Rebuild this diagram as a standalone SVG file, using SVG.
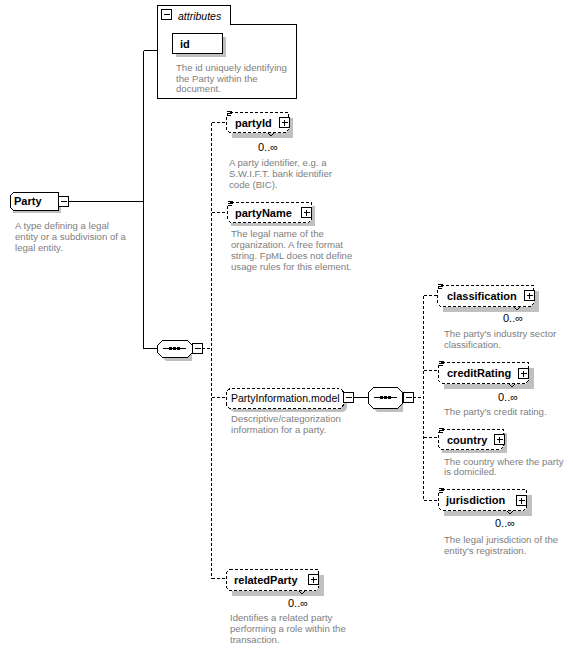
<svg xmlns="http://www.w3.org/2000/svg" width="573" height="650" viewBox="0 0 573 650">
<style>
.ln{stroke:#000;stroke-width:1;fill:none;shape-rendering:crispEdges}
.dl{stroke:#000;stroke-width:1;fill:none;stroke-dasharray:3,2;shape-rendering:crispEdges}
.bx{fill:#fff;stroke:#000;stroke-width:1;shape-rendering:crispEdges}
.db{fill:#fff;stroke:#000;stroke-width:1;stroke-dasharray:3,2;shape-rendering:crispEdges}
.sh{fill:#c0c0c0;stroke:none}
.lbl{font-family:"Liberation Sans",Arial,sans-serif;font-size:11px;font-weight:bold;fill:#000}
.reg{font-family:"Liberation Sans",Arial,sans-serif;font-size:10.5px;fill:#000}
.occ{font-family:"Liberation Sans",Arial,sans-serif;font-size:11px;fill:#000}
.desc{font-family:"Liberation Sans",Arial,sans-serif;font-size:9.6px;fill:#808080}
</style>
<defs>
<g id="plus"><rect class="bx" x="0.5" y="0.5" width="10" height="10"/><path class="ln" d="M2.5 5.5H8.5M5.5 2.5V8.5"/></g>
<g id="minus"><rect class="bx" x="0.5" y="0.5" width="10" height="10"/><path class="ln" d="M2.5 5.5H8.5"/></g>
<g id="icon"><path class="ln" d="M0 0.5H5M0 2.5H5M0 4.5H4"/></g>
</defs>

<g id="connectors">
<path class="ln" d="M143.5 50.5H157M143.5 50.5V348.5H157M68 201.5H143.5"/>
<path class="dl" d="M202 348.5H211.5M211.5 122.5V578.5M211.5 122.5H226M211.5 212.5H227M211.5 397.5H226M211.5 578.5H226"/>
<path class="ln" d="M354 397.5H368"/>
<path class="dl" d="M413 397.5H423.5M423.5 295.5V500.5M423.5 295.5H437M423.5 370.5H438M423.5 437.5H438M423.5 500.5H438"/>
</g>

<g id="attributes">
<path class="bx" d="M157.5 98.5V5.5H230.5V24.5H296.5V98.5Z"/>
<use href="#minus" x="161" y="9"/>
<text x="178" y="19.5" class="reg" style="font-style:italic">attributes</text>
<rect class="sh" x="176" y="37" width="50" height="20"/>
<rect class="bx" x="172.5" y="33.5" width="50" height="20"/>
<text x="180" y="47.5" class="lbl">id</text>
<text class="desc"><tspan x="176" y="70.5">The id uniquely identifying</tspan><tspan x="176" y="81.5">the Party within the</tspan><tspan x="176" y="92">document.</tspan></text>
</g>

<g id="party">
<path class="sh" d="M17 196H61V213H13V200Z"/>
<path class="bx" d="M13.5 192.5H58.5V210.5H13.5L10.5 207.5V195.5Z"/>
<use href="#minus" x="58" y="196"/>
<text x="14" y="205" class="lbl">Party</text>
<text class="desc"><tspan x="15" y="229">A type defining a legal</tspan><tspan x="15" y="240">entity or a subdivision of a</tspan><tspan x="15" y="250.5">legal entity.</tspan></text>
</g>

<g id="sequence1">
<path class="sh" d="M166 344H192V361H166L161 356V349Z"/>
<path class="bx" d="M162.5 340.5H187.5L192.5 345.5V352.5L187.5 357.5H162.5L157.5 352.5V345.5Z"/>
<path class="ln" d="M163 348.5H186"/>
<rect x="169" y="347" width="3" height="3" fill="#000"/><rect x="173" y="347" width="3" height="3" fill="#000"/><rect x="177" y="347" width="3" height="3" fill="#000"/>
<use href="#minus" x="192" y="343"/>
</g>

<g id="partyId">
<rect class="sh" x="232" y="118" width="61" height="20"/>
<path class="db" d="M229.5 112.5H288.5V129.5L285.5 132.5H229.5L226.5 129.5V115.5Z"/>
<use href="#icon" x="227" y="111"/>
<path class="ln" d="M268 133L271 136L274 133"/>
<text x="235" y="127" class="lbl">partyId</text>
<use href="#plus" x="279" y="117"/>
<text x="258" y="151" class="occ">0..∞</text>
<text class="desc"><tspan x="229" y="166">A party identifier, e.g. a</tspan><tspan x="229" y="177">S.W.I.F.T. bank identifier</tspan><tspan x="229" y="188">code (BIC).</tspan></text>
</g>

<g id="partyName">
<rect class="sh" x="231" y="206" width="84" height="20"/>
<path class="db" d="M230.5 202.5H311.5V219.5L308.5 222.5H230.5L227.5 219.5V205.5Z"/>
<use href="#icon" x="228" y="201"/>
<text x="235" y="216.5" class="lbl">partyName</text>
<use href="#plus" x="301" y="207"/>
<text class="desc"><tspan x="231" y="237">The legal name of the</tspan><tspan x="231" y="248">organization. A free format</tspan><tspan x="231" y="259">string. FpML does not define</tspan><tspan x="231" y="270">usage rules for this element.</tspan></text>
</g>

<g id="partyInformationModel">
<rect class="sh" x="230" y="392" width="117" height="20" rx="5"/>
<rect class="db" x="226.5" y="388.5" width="117" height="20" rx="5"/>
<text x="231" y="402" class="reg">PartyInformation.model</text>
<use href="#minus" x="343" y="392"/>
<text class="desc"><tspan x="231" y="422">Descriptive/categorization</tspan><tspan x="231" y="433">information for a party.</tspan></text>
</g>

<g id="sequence2">
<path class="sh" d="M377 391H403V412H377L372 407V396Z"/>
<path class="bx" d="M373.5 387.5H397.5L402.5 392.5V403.5L397.5 408.5H373.5L368.5 403.5V392.5Z"/>
<path class="ln" d="M374 397.5H397"/>
<rect x="380" y="396" width="3" height="3" fill="#000"/><rect x="384" y="396" width="3" height="3" fill="#000"/><rect x="388" y="396" width="3" height="3" fill="#000"/>
<use href="#minus" x="403" y="392"/>
</g>

<g id="classification">
<rect class="sh" x="443" y="291" width="96" height="21"/>
<path class="db" d="M440.5 285.5H533.5V303.5L530.5 306.5H440.5L437.5 303.5V288.5Z"/>
<use href="#icon" x="438" y="284"/>
<path class="ln" d="M514 307L517 310L520 307"/>
<text x="447" y="300" class="lbl">classification</text>
<use href="#plus" x="524" y="290"/>
<text x="503" y="322" class="occ">0..∞</text>
<text class="desc"><tspan x="444" y="337">The party's industry sector</tspan><tspan x="444" y="348">classification.</tspan></text>
</g>

<g id="creditRating">
<rect class="sh" x="444" y="368" width="90" height="21"/>
<path class="db" d="M441.5 362.5H528.5V380.5L525.5 383.5H441.5L438.5 380.5V365.5Z"/>
<use href="#icon" x="439" y="361"/>
<path class="ln" d="M509 384L512 387L515 384"/>
<text x="447" y="377" class="lbl">creditRating</text>
<use href="#plus" x="518" y="368"/>
<text x="498" y="401" class="occ">0..∞</text>
<text class="desc"><tspan x="444" y="415">The party's credit rating.</tspan></text>
</g>

<g id="country">
<rect class="sh" x="442" y="433" width="65" height="20"/>
<path class="db" d="M441.5 429.5H503.5V446.5L500.5 449.5H441.5L438.5 446.5V432.5Z"/>
<use href="#icon" x="439" y="428"/>
<text x="447" y="443.5" class="lbl">country</text>
<use href="#plus" x="494" y="434"/>
<text class="desc"><tspan x="444" y="465">The country where the party</tspan><tspan x="444" y="475">is domiciled.</tspan></text>
</g>

<g id="jurisdiction">
<rect class="sh" x="444" y="495" width="88" height="21"/>
<path class="db" d="M441.5 489.5H526.5V507.5L523.5 510.5H441.5L438.5 507.5V492.5Z"/>
<use href="#icon" x="439" y="488"/>
<path class="ln" d="M507 511L510 514L513 511"/>
<text x="446" y="504" class="lbl">jurisdiction</text>
<use href="#plus" x="516" y="495"/>
<text x="495" y="527" class="occ">0..∞</text>
<text class="desc"><tspan x="444" y="543">The legal jurisdiction of the</tspan><tspan x="444" y="554">entity's registration.</tspan></text>
</g>

<g id="relatedParty">
<rect class="sh" x="232" y="575" width="92" height="21"/>
<path class="db" d="M229.5 569.5H318.5V587.5L315.5 590.5H229.5L226.5 587.5V572.5Z"/>
<path class="ln" d="M299 591L302 594L305 591"/>
<text x="234" y="584" class="lbl">relatedParty</text>
<use href="#plus" x="308" y="574"/>
<text x="288" y="607" class="occ">0..∞</text>
<text class="desc"><tspan x="230" y="621">Identifies a related party</tspan><tspan x="230" y="632">performing a role within the</tspan><tspan x="230" y="642.5">transaction.</tspan></text>
</g>
</svg>
